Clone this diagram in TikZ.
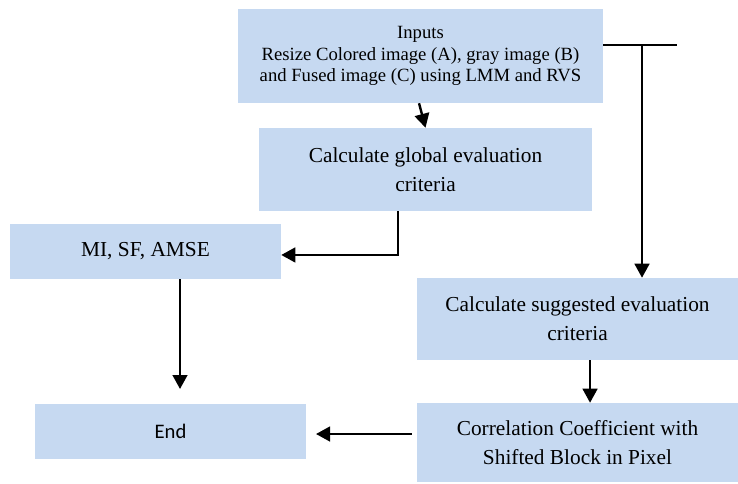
\documentclass[tikz,border=0pt]{standalone}
\usepackage{fontspec}
\setmainfont{Liberation Serif}
\newfontfamily\calibri{Carlito}
\usetikzlibrary{arrows.meta,calc}
\definecolor{boxblue}{RGB}{198,217,241}
\begin{document}
\begin{tikzpicture}[x=0.75pt,y=-0.75pt,
  box/.style={fill=boxblue,draw=none,inner sep=0pt,align=center,anchor=center},
  conn/.style={line width=1.8pt,draw=black},
  arr/.style={conn,-{Triangle[length=10.5pt,width=11pt]}},
  big/.style={font=\fontsize{16}{21.75}\selectfont},
  small/.style={font=\fontsize{14}{16}\selectfont}]
\useasboundingbox (0,0) rectangle (738,483);
\node[box,small,minimum width=273.75pt,minimum height=70.5pt] (in) at (420.5,56) {Inputs\\Resize Colored image (A), gray image (B)\\and Fused image (C) using LMM and RVS};
\node[box,big,minimum width=249.75pt,minimum height=62.25pt] (gl) at (425.5,169.5) {Calculate global evaluation\\criteria};
\node[box,big,minimum width=203.25pt,minimum height=41.25pt] (mi) at (145.5,251.5) {MI, SF, AMSE};
\node[box,big,minimum width=240.75pt,minimum height=61.5pt] (sg) at (577.5,319) {Calculate suggested evaluation\\criteria};
\node[box,font=\calibri\fontsize{15.5}{18}\selectfont,minimum width=203.25pt,minimum height=41.25pt] (en) at (170.5,431.5) {End};
\node[box,big,minimum width=240.75pt,minimum height=59.25pt] (co) at (577.5,442.5) {Correlation Coefficient with\\Shifted Block in Pixel};
\coordinate (tr) at (677,45);
\coordinate (tj) at (642,45);
\coordinate (me) at (180,389);
\coordinate (ce) at (316,434);
% connectors
\draw[arr] ([xshift=-1.1pt]in.south) -- (gl.north);
\draw[conn] (in.east |- tr) -- (tr);
\draw[arr] (tj) -- (tj |- sg.north);
\draw[arr] ([xshift=-20.6pt]gl.south) |- ([yshift=-2.6pt]mi.east);
\draw[arr] (mi.south -| me) -- (me);
\draw[arr] ([xshift=9.4pt]sg.south) -- ([xshift=9.4pt]co.north);
\draw[arr] ([xshift=-3.75pt]co.west |- ce) -- (ce);
\end{tikzpicture}
\end{document}
